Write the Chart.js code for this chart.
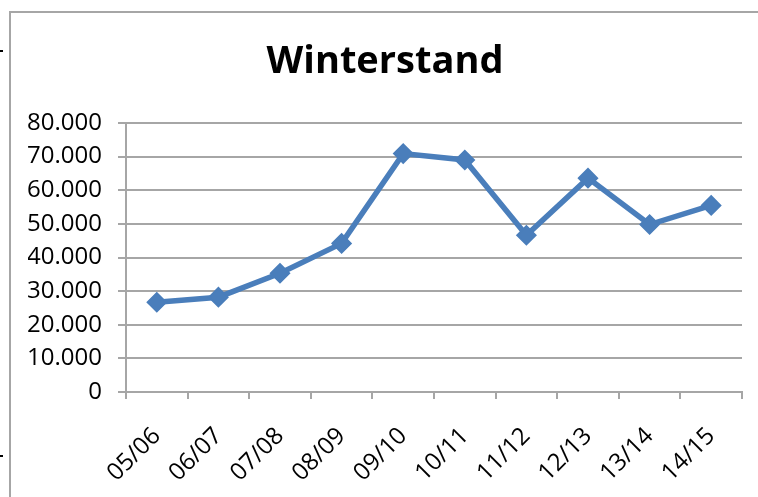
<!DOCTYPE html>
<html>
<head>
<meta charset="utf-8">
<script src="https://cdn.jsdelivr.net/npm/chart.js@4"></script>
<style>
  body { margin: 0; background: #fff; }
  #wrap { position: relative; width: 758px; height: 497px; overflow: hidden; }
  #frame { position: absolute; left: 9px; top: 11px; width: 800px; height: 600px;
           border-left: 2px solid #a6a6a6; border-top: 2px solid #a6a6a6; }
  .mark { position: absolute; left: 0; width: 3px; height: 2px; background: #000; }
  canvas { position: absolute; left: 0; top: 0; }
</style>
</head>
<body>
<div id="wrap">
  <div id="frame"></div>
  <div class="mark" style="top:50px"></div>
  <div class="mark" style="top:455px"></div>
  <canvas id="chart" width="758" height="497"></canvas>
</div>
<script>
// === DATA ===
const seasons = ["05/06", "06/07", "07/08", "08/09", "09/10", "10/11", "11/12", "12/13", "13/14", "14/15"];
const winterstand = [26700, 28200, 35300, 44200, 70900, 69000, 46600, 63600, 49800, 55500];
const yMin = 0, yMax = 80000, yStep = 10000;

const fontFamily = "'Open Sans', 'Liberation Sans', sans-serif";
const blue = "#4a7ebb";
const grey = "#a6a6a6";

function formatDe(v) {
  return String(v).replace(/\B(?=(\d{3})+(?!\d))/g, ".");
}

// === CHART ===
new Chart(document.getElementById("chart").getContext("2d"), {
  type: "line",
  data: {
    labels: seasons,
    datasets: [{
      label: "Winterstand",
      data: winterstand,
      borderColor: blue,
      backgroundColor: blue,
      borderWidth: 5.5,
      pointStyle: "rectRot",
      pointRadius: 9.5,
      pointBorderWidth: 1.5,
      tension: 0
    }]
  },
  options: {
    responsive: false,
    animation: false,
    layout: { padding: { left: 28, right: 16, top: 0, bottom: 0 } },
    plugins: {
      legend: { display: false },
      tooltip: { enabled: false },
      title: {
        display: true,
        text: "Winterstand",
        color: "#000",
        font: { family: fontFamily, size: 38, weight: "bold", lineHeight: 1 },
        padding: { top: 43, bottom: 42 }
      }
    },
    scales: {
      x: {
        offset: true,
        grid: { offset: true, drawOnChartArea: false, color: grey, lineWidth: 2, tickLength: 7 },
        border: { color: grey, width: 2 },
        ticks: {
          color: "#000",
          font: { family: fontFamily, size: 24 },
          maxRotation: 45, minRotation: 45,
          padding: 23
        },
        afterFit: s => { s.height = 105; s.paddingLeft = 0; s.paddingRight = 0; }
      },
      y: {
        min: yMin, max: yMax,
        grid: { color: grey, lineWidth: 2, tickLength: 8 },
        border: { color: grey, width: 2 },
        ticks: {
          stepSize: yStep,
          color: "#000",
          font: { family: fontFamily, size: 24 },
          padding: 16,
          callback: v => formatDe(v)
        },
        afterFit: s => { s.width = 98; }
      }
    }
  }
});
</script>
</body>
</html>
